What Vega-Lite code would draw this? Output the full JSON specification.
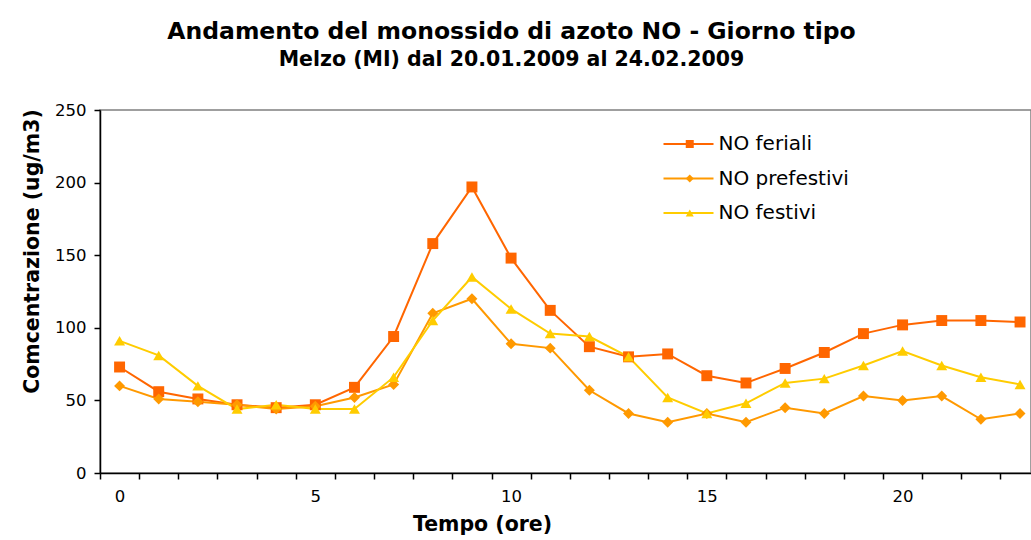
{
  "$schema": "https://vega.github.io/schema/vega-lite/v6.json",
  "width": 931,
  "height": 363,
  "autosize": {"type": "none"},
  "padding": {"left": 100, "top": 110, "right": 0, "bottom": 67},
  "background": "white",
  "config": {
    "font": "DejaVu Sans",
    "view": {"stroke": "#808080", "strokeWidth": 1.5}
  },
  "title": {
    "text": "Andamento del monossido di azoto NO - Giorno tipo",
    "subtitle": "Melzo (MI) dal 20.01.2009 al 24.02.2009",
    "font": "DejaVu Sans",
    "subtitleFont": "DejaVu Sans",
    "fontSize": 23.5,
    "fontWeight": "bold",
    "subtitleFontSize": 20.5,
    "subtitleFontWeight": "bold",
    "color": "black",
    "subtitleColor": "black",
    "anchor": "middle",
    "dx": -54,
    "offset": 32,
    "subtitlePadding": 6
  },
  "data": {
    "values": [
      {"ora": 0, "serie": "NO feriali", "valore": 73},
      {"ora": 1, "serie": "NO feriali", "valore": 56},
      {"ora": 2, "serie": "NO feriali", "valore": 51},
      {"ora": 3, "serie": "NO feriali", "valore": 47},
      {"ora": 4, "serie": "NO feriali", "valore": 45},
      {"ora": 5, "serie": "NO feriali", "valore": 47},
      {"ora": 6, "serie": "NO feriali", "valore": 59},
      {"ora": 7, "serie": "NO feriali", "valore": 94},
      {"ora": 8, "serie": "NO feriali", "valore": 158},
      {"ora": 9, "serie": "NO feriali", "valore": 197},
      {"ora": 10, "serie": "NO feriali", "valore": 148},
      {"ora": 11, "serie": "NO feriali", "valore": 112},
      {"ora": 12, "serie": "NO feriali", "valore": 87},
      {"ora": 13, "serie": "NO feriali", "valore": 80},
      {"ora": 14, "serie": "NO feriali", "valore": 82},
      {"ora": 15, "serie": "NO feriali", "valore": 67},
      {"ora": 16, "serie": "NO feriali", "valore": 62},
      {"ora": 17, "serie": "NO feriali", "valore": 72},
      {"ora": 18, "serie": "NO feriali", "valore": 83},
      {"ora": 19, "serie": "NO feriali", "valore": 96},
      {"ora": 20, "serie": "NO feriali", "valore": 102},
      {"ora": 21, "serie": "NO feriali", "valore": 105},
      {"ora": 22, "serie": "NO feriali", "valore": 105},
      {"ora": 23, "serie": "NO feriali", "valore": 104},
      {"ora": 0, "serie": "NO prefestivi", "valore": 60},
      {"ora": 1, "serie": "NO prefestivi", "valore": 51},
      {"ora": 2, "serie": "NO prefestivi", "valore": 49},
      {"ora": 3, "serie": "NO prefestivi", "valore": 47},
      {"ora": 4, "serie": "NO prefestivi", "valore": 44},
      {"ora": 5, "serie": "NO prefestivi", "valore": 46},
      {"ora": 6, "serie": "NO prefestivi", "valore": 52},
      {"ora": 7, "serie": "NO prefestivi", "valore": 61},
      {"ora": 8, "serie": "NO prefestivi", "valore": 110},
      {"ora": 9, "serie": "NO prefestivi", "valore": 120},
      {"ora": 10, "serie": "NO prefestivi", "valore": 89},
      {"ora": 11, "serie": "NO prefestivi", "valore": 86},
      {"ora": 12, "serie": "NO prefestivi", "valore": 57},
      {"ora": 13, "serie": "NO prefestivi", "valore": 41},
      {"ora": 14, "serie": "NO prefestivi", "valore": 35},
      {"ora": 15, "serie": "NO prefestivi", "valore": 41},
      {"ora": 16, "serie": "NO prefestivi", "valore": 35},
      {"ora": 17, "serie": "NO prefestivi", "valore": 45},
      {"ora": 18, "serie": "NO prefestivi", "valore": 41},
      {"ora": 19, "serie": "NO prefestivi", "valore": 53},
      {"ora": 20, "serie": "NO prefestivi", "valore": 50},
      {"ora": 21, "serie": "NO prefestivi", "valore": 53},
      {"ora": 22, "serie": "NO prefestivi", "valore": 37},
      {"ora": 23, "serie": "NO prefestivi", "valore": 41},
      {"ora": 0, "serie": "NO festivi", "valore": 91},
      {"ora": 1, "serie": "NO festivi", "valore": 81},
      {"ora": 2, "serie": "NO festivi", "valore": 60},
      {"ora": 3, "serie": "NO festivi", "valore": 44},
      {"ora": 4, "serie": "NO festivi", "valore": 47},
      {"ora": 5, "serie": "NO festivi", "valore": 44},
      {"ora": 6, "serie": "NO festivi", "valore": 44},
      {"ora": 7, "serie": "NO festivi", "valore": 66},
      {"ora": 8, "serie": "NO festivi", "valore": 105},
      {"ora": 9, "serie": "NO festivi", "valore": 135},
      {"ora": 10, "serie": "NO festivi", "valore": 113},
      {"ora": 11, "serie": "NO festivi", "valore": 96},
      {"ora": 12, "serie": "NO festivi", "valore": 94},
      {"ora": 13, "serie": "NO festivi", "valore": 80},
      {"ora": 14, "serie": "NO festivi", "valore": 52},
      {"ora": 15, "serie": "NO festivi", "valore": 41},
      {"ora": 16, "serie": "NO festivi", "valore": 48},
      {"ora": 17, "serie": "NO festivi", "valore": 62},
      {"ora": 18, "serie": "NO festivi", "valore": 65},
      {"ora": 19, "serie": "NO festivi", "valore": 74},
      {"ora": 20, "serie": "NO festivi", "valore": 84},
      {"ora": 21, "serie": "NO festivi", "valore": 74},
      {"ora": 22, "serie": "NO festivi", "valore": 66},
      {"ora": 23, "serie": "NO festivi", "valore": 61}
    ]
  },
  "encoding": {
    "y": {
      "field": "valore",
      "type": "quantitative",
      "scale": {"domain": [0, 250], "nice": false},
      "axis": {
        "values": [0, 50, 100, 150, 200, 250],
        "labelFontSize": 16.5,
        "labelColor": "black",
        "labelPadding": 8,
        "tickSize": 6,
        "tickColor": "black",
        "tickWidth": 1.5,
        "domainColor": "black",
        "domainWidth": 1.5,
        "grid": false,
        "title": "Comcentrazione (ug/m3)",
        "titleFontSize": 20.5,
        "titleFontWeight": "bold",
        "titleColor": "black",
        "titleAlign": "center",
        "titleAngle": 270,
        "titleBaseline": "alphabetic",
        "titleX": -62,
        "titleY": 141
      }
    }
  },
  "layer": [
    {
      "mark": {"type": "line", "strokeWidth": 2},
      "encoding": {
        "x": {
          "field": "ora",
          "type": "quantitative",
          "scale": {"domain": [-0.5, 23.28], "nice": false, "zero": false},
          "axis": {
            "orient": "bottom",
            "values": [0, 5, 10, 15, 20],
            "format": "d",
            "labelFontSize": 16.5,
            "labelColor": "black",
            "labelPadding": 15,
            "labelOverlap": false,
            "labelFlush": false,
            "ticks": false,
            "tickSize": 6,
            "domainColor": "black",
            "domainWidth": 1.5,
            "grid": false,
            "title": "Tempo (ore)",
            "titleFontSize": 20.5,
            "titleFontWeight": "bold",
            "titleColor": "black",
            "titleAlign": "center",
            "titleBaseline": "alphabetic",
            "titleX": 382,
            "titleY": 57
          }
        },
        "color": {
          "field": "serie",
          "type": "nominal",
          "scale": {
            "domain": ["NO feriali", "NO prefestivi", "NO festivi"],
            "range": ["#FF6600", "#FF9900", "#FFCC00"]
          },
          "legend": {
            "title": null,
            "orient": "none",
            "legendX": 578.5,
            "legendY": 24,
            "padding": 0,
            "labelFontSize": 20,
            "labelColor": "black",
            "symbolType": "M-5,0H5",
            "symbolSize": 100,
            "symbolStrokeWidth": 2,
            "labelOffset": 20,
            "rowPadding": 14.5
          }
        }
      }
    },
    {
      "transform": [{"calculate": "datum.serie", "as": "serie_m"}],
      "mark": {"type": "point", "filled": true, "opacity": 1, "size": 120},
      "encoding": {
        "x": {
          "field": "ora",
          "type": "quantitative",
          "scale": {"domain": [-0.5, 23.28], "nice": false, "zero": false},
          "axis": {
            "orient": "bottom",
            "values": [-0.5, 0.5, 1.5, 2.5, 3.5, 4.5, 5.5, 6.5, 7.5, 8.5, 9.5, 10.5, 11.5, 12.5, 13.5, 14.5, 15.5, 16.5, 17.5, 18.5, 19.5, 20.5, 21.5, 22.5],
            "labels": false,
            "domain": false,
            "ticks": true,
            "tickSize": 6,
            "tickColor": "black",
            "tickWidth": 1.5,
            "grid": false,
            "title": null
          }
        },
        "color": {
          "field": "serie_m",
          "type": "nominal",
          "scale": {
            "domain": ["NO feriali", "NO prefestivi", "NO festivi"],
            "range": ["#FF6600", "#FF9900", "#FFCC00"]
          },
          "legend": {
            "title": null,
            "orient": "none",
            "legendX": 579.75,
            "legendY": 24,
            "padding": 0,
            "labelFontSize": 20,
            "labelOpacity": 0,
            "symbolSize": 64,
            "symbolOpacity": 1,
            "labelOffset": 20,
            "rowPadding": 14.5
          }
        },
        "shape": {
          "field": "serie_m",
          "type": "nominal",
          "scale": {
            "domain": ["NO feriali", "NO prefestivi", "NO festivi"],
            "range": ["square", "diamond", "triangle-up"]
          },
          "legend": {
            "title": null,
            "orient": "none",
            "legendX": 579.75,
            "legendY": 24,
            "padding": 0,
            "labelFontSize": 20,
            "labelOpacity": 0,
            "symbolSize": 64,
            "labelOffset": 20,
            "rowPadding": 14.5
          }
        }
      }
    }
  ],
  "resolve": {
    "scale": {"color": "independent", "shape": "independent"},
    "axis": {"x": "independent"},
    "legend": {"color": "independent", "shape": "independent"}
  }
}
